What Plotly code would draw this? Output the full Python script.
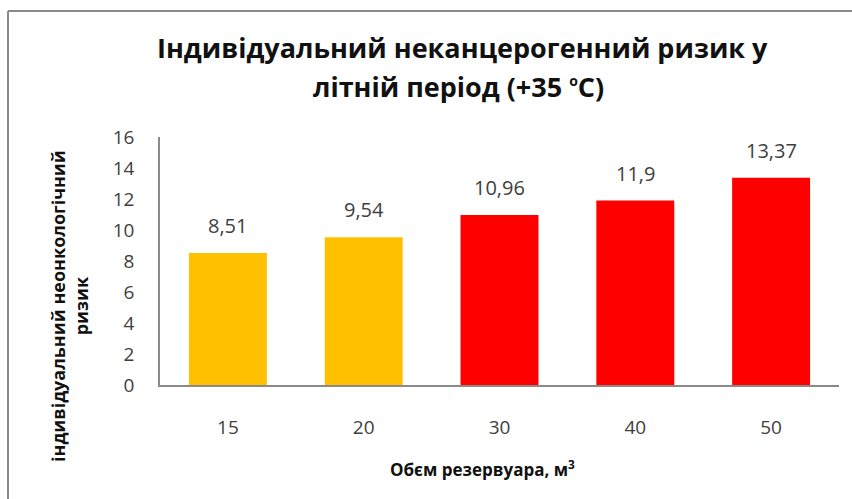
import plotly.graph_objects as go

# Tank volume categories and individual non-carcinogenic risk values
volumes = ["15", "20", "30", "40", "50"]
risk = [8.51, 9.54, 10.96, 11.9, 13.37]
bar_colors = ["#FFC000", "#FFC000", "#FF0000", "#FF0000", "#FF0000"]
y_ticks = [0, 2, 4, 6, 8, 10, 12, 14, 16]

W, H = 852, 499
L, R, T, B = 160, 13, 137, 114
PW, PH = W - L - R, H - T - B


def px_x(p):
    return (p - L) / PW


def px_y(p):
    return (H - B - p) / PH


FONT = "Open Sans, Noto Sans, DejaVu Sans, sans-serif"

fig = go.Figure()
fig.add_trace(go.Bar(
    x=volumes,
    y=risk,
    marker=dict(color=bar_colors, line=dict(width=0)),
    hoverinfo="skip",
))

# value labels above each bar, taken from the same values
for i, r in enumerate(risk):
    fig.add_annotation(
        x=i, y=r, xref="x", yref="y",
        text=f"{r:g}".replace(".", ","),
        showarrow=False, yanchor="bottom", yshift=12,
        font=dict(family=FONT, size=20, color="#404040"),
    )

# chart title (two lines)
fig.add_annotation(
    x=px_x(462), y=px_y(47), xref="paper", yref="paper",
    text="<b>Індивідуальний неканцерогенний ризик у</b>",
    showarrow=False, xanchor="center", yanchor="middle",
    font=dict(family=FONT, size=27, color="#111111"),
)
fig.add_annotation(
    x=px_x(458), y=px_y(87), xref="paper", yref="paper",
    text="<b>літній період (+35 <sup><span style='font-size:14px'>о</span></sup>С)</b>",
    showarrow=False, xanchor="center", yanchor="middle",
    font=dict(family=FONT, size=27, color="#111111"),
)

# axis titles
fig.add_annotation(
    x=px_x(482), y=px_y(468), xref="paper", yref="paper",
    text="<b>Обєм резервуара, м<sup>3</sup></b>",
    showarrow=False, xanchor="center", yanchor="middle",
    font=dict(family=FONT, size=17, color="#111111"),
)
fig.add_annotation(
    x=px_x(69), y=px_y(306), xref="paper", yref="paper",
    text="<b>індивідуальний неонкологічний<br>ризик</b>",
    showarrow=False, xanchor="center", yanchor="middle", textangle=-90,
    font=dict(family=FONT, size=18, color="#111111"),
)

# outer chart border (left and top edges visible)
border = dict(color="#8a8a8a", width=2)
fig.add_shape(type="line", xref="paper", yref="paper",
              x0=px_x(8), x1=px_x(8), y0=px_y(11), y1=px_y(510), line=border)
fig.add_shape(type="line", xref="paper", yref="paper",
              x0=px_x(8), x1=px_x(860), y0=px_y(11), y1=px_y(11), line=border)

fig.update_layout(
    width=W, height=H,
    margin=dict(l=L, r=R, t=T, b=B, pad=0),
    paper_bgcolor="white", plot_bgcolor="white",
    bargap=0.426,
    showlegend=False,
    font=dict(family=FONT, color="#404040"),
)
fig.update_xaxes(
    type="category", range=[-0.5, len(volumes) - 0.5],
    showgrid=False, zeroline=False,
    showline=True, linecolor="#8a8a8a", linewidth=1.5,
    ticks="", ticklabelstandoff=24,
    tickfont=dict(family=FONT, size=19, color="#404040"),
)
fig.update_yaxes(
    range=[0, 16], tickvals=y_ticks,
    showgrid=False, zeroline=False,
    showline=True, linecolor="#8a8a8a", linewidth=1.5,
    ticks="", ticklabelstandoff=20,
    tickfont=dict(family=FONT, size=19, color="#404040"),
)

fig.write_html("out.html")
